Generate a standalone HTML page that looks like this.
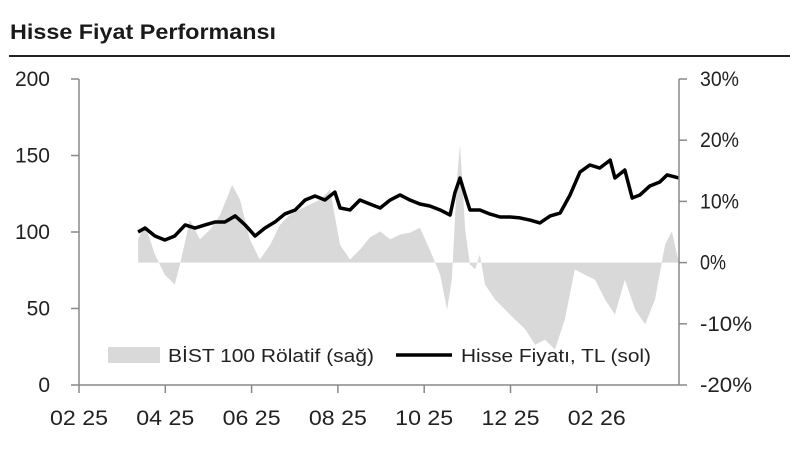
<!DOCTYPE html>
<html><head><meta charset="utf-8"><style>
body{margin:0;background:#fff;width:790px;height:458px;overflow:hidden;font-family:"Liberation Sans",sans-serif;}
svg{position:absolute;left:0;top:0}
</style></head><body>
<svg id="chart" width="790" height="458">
<text x="10" y="39" font-size="21" font-weight="bold" fill="#1a1a1a" textLength="266" lengthAdjust="spacingAndGlyphs">Hisse Fiyat Performansı</text>
<line x1="9" y1="56" x2="790" y2="56" stroke="#222" stroke-width="2"/>
<g id="area"></g><g id="line"></g><g id="axes"></g>
<g>
<rect x="108" y="347" width="52" height="16" fill="#d9d9d9"/>
<text x="168" y="362" font-size="18" fill="#222" textLength="206" lengthAdjust="spacingAndGlyphs">BİST 100 Rölatif (sağ)</text>
<line x1="396" y1="355" x2="452" y2="355" stroke="#000" stroke-width="3.5"/>
<text x="461" y="362" font-size="18" fill="#222" textLength="190" lengthAdjust="spacingAndGlyphs">Hisse Fiyatı, TL (sol)</text>
</g>
</svg>
<script>
const xTickLabels=["02 25","04 25","06 25","08 25","10 25","12 25","02 26"];
const xTickMonths=[0,2,4,6,8,10,12];
const leftTicks=[0,50,100,150,200];
const rightTicks=[-20,-10,0,10,20,30];
const priceMonths=[1.37,1.53,1.76,1.99,2.22,2.46,2.69,2.92,3.15,3.38,3.62,3.85,4.08,4.31,4.54,4.77,5.01,5.24,5.47,5.70,5.93,6.05,6.28,6.51,6.74,6.98,7.21,7.44,7.67,7.90,8.13,8.37,8.60,8.71,8.83,8.95,9.06,9.29,9.52,9.76,9.99,10.22,10.45,10.68,10.92,11.15,11.38,11.61,11.84,12.07,12.31,12.42,12.65,12.82,13.00,13.23,13.46,13.63,13.90];
const priceValues=[100,102.6,97.4,94.8,97.4,104.6,102.6,104.6,106.5,106.5,110.5,104.6,97.4,102.6,106.5,111.8,114.4,120.9,123.5,120.9,126.1,115.7,114.4,120.9,118.3,115.7,120.9,124.2,120.9,118.3,117,114.4,111.1,125.5,135.3,124.2,114.4,114.4,111.8,109.8,109.8,109.2,107.8,105.9,110.5,112.4,124.2,139.2,143.8,141.8,147,135.3,140.5,122.2,124.2,130.1,132.7,137.3,135.3];
const relMonths=[1.37,1.53,1.76,1.99,2.22,2.34,2.57,2.80,3.04,3.27,3.55,3.73,3.96,4.19,4.43,4.66,4.89,5.12,5.35,5.59,5.82,6.05,6.28,6.51,6.74,6.98,7.21,7.44,7.67,7.90,8.13,8.37,8.53,8.64,8.76,8.83,8.95,9.06,9.18,9.29,9.41,9.64,9.99,10.34,10.57,10.80,11.03,11.26,11.49,11.73,11.96,12.19,12.42,12.65,12.89,13.12,13.35,13.58,13.74,13.90];
const relValues=[3.8,6.2,1.3,-2,-3.6,-0.3,7,3.8,5.4,7.8,12.7,10.3,3.8,0.5,2.9,6.2,7.8,8.7,9.5,10.3,11.9,2.9,0.5,2.1,4.1,5.1,3.8,4.6,4.9,5.7,2.1,-2,-7.7,-2.8,13.6,19.3,5.4,-0.3,-1.1,1.3,-3.6,-6,-8.5,-10.9,-13.4,-12.6,-14.2,-9.3,-1.1,-2,-2.8,-6,-8.5,-2.8,-7.7,-10.1,-6,2.9,5.1,0];
const X0=79,X1=679,YT=79,YB=385;
const xs=m=>X0+m*43.15;
const yl=v=>YB-(v/200)*(YB-YT);
const yr=p=>YB-((p+20)/50)*(YB-YT);
const NS="http://www.w3.org/2000/svg";
function mk(t,a,p){const e=document.createElementNS(NS,t);for(const k in a)e.setAttribute(k,a[k]);p.appendChild(e);return e;}
const area=document.getElementById('area'),line=document.getElementById('line'),axes=document.getElementById('axes');
let d="M"+xs(relMonths[0])+","+yr(0);
relMonths.forEach((m,i)=>d+=" L"+xs(m)+","+yr(relValues[i]));
d+=" L"+xs(relMonths[relMonths.length-1])+","+yr(0)+"Z";
const ar=mk('path',{d:d,fill:"#d9d9d9"},area);


let pd="";priceMonths.forEach((m,i)=>pd+=(i?" L":"M")+xs(m)+","+yl(priceValues[i]));
const pl=mk('path',{d:pd,fill:"none",stroke:"#000","stroke-width":3.5,"stroke-linejoin":"round"},line);


mk('line',{x1:X0,y1:YT,x2:X0,y2:YB,stroke:"#888","stroke-width":1.5},axes);
mk('line',{x1:X1,y1:YT,x2:X1,y2:YB,stroke:"#888","stroke-width":1.5},axes);
mk('line',{x1:X0,y1:YB,x2:X1,y2:YB,stroke:"#888","stroke-width":1.5},axes);
leftTicks.forEach(v=>{mk('line',{x1:X0-8,y1:yl(v),x2:X0,y2:yl(v),stroke:"#888","stroke-width":1.5},axes);
const t=mk('text',{x:50,y:yl(v)+7,"font-size":21,"text-anchor":"end",fill:"#222"},axes);t.textContent=v;

});
rightTicks.forEach(v=>{mk('line',{x1:X1,y1:yr(v),x2:X1+8,y2:yr(v),stroke:"#888","stroke-width":1.5},axes);
const s=v+"%";
const t=mk('text',{x:700,y:yr(v)+7,"font-size":21,fill:"#222",textLength:(s.length*13),lengthAdjust:"spacingAndGlyphs"},axes);t.textContent=s;

});
xTickMonths.forEach((m,i)=>{mk('line',{x1:xs(m),y1:YB,x2:xs(m),y2:YB+8,stroke:"#888","stroke-width":1.5},axes);
const t=mk('text',{x:xs(m),y:425,"font-size":21,"text-anchor":"middle",fill:"#222",textLength:58,lengthAdjust:"spacingAndGlyphs"},axes);t.textContent=xTickLabels[i];

});
</script>
</body></html>
